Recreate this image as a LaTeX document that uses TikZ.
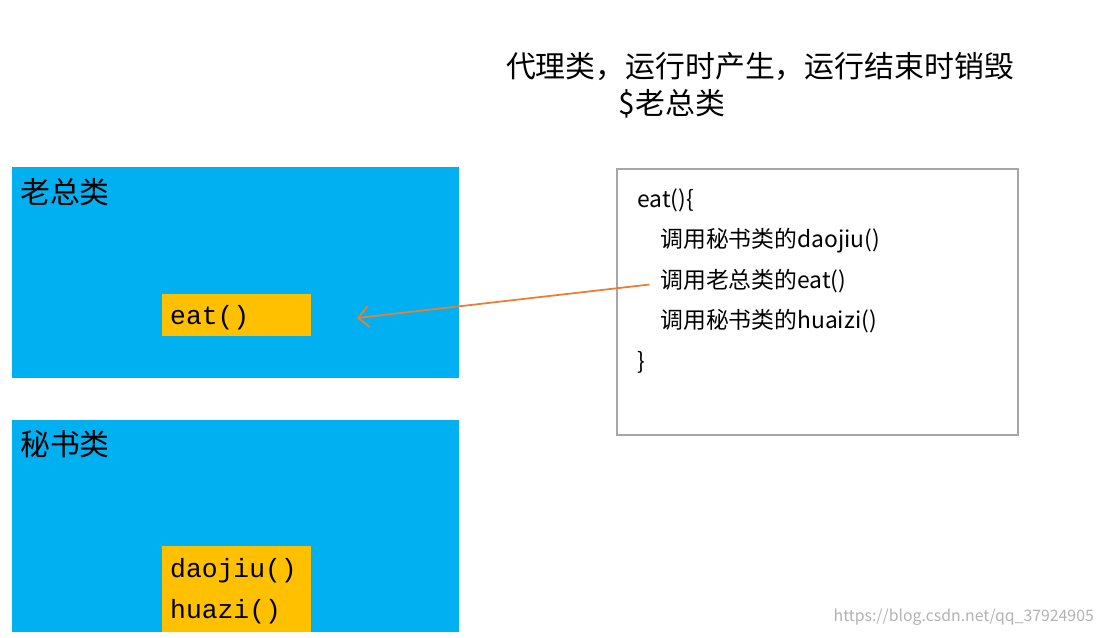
\documentclass[tikz,border=0pt]{standalone}
\usepackage{fontspec}
\setmainfont{Noto Sans CJK SC}
\newfontfamily\monofont{Liberation Mono}
\usetikzlibrary{arrows.meta, positioning}
\definecolor{boss_blue}{RGB}{0, 176, 240}
\definecolor{meth_gold}{RGB}{255, 192, 0}
\definecolor{call_orange}{RGB}{237, 125, 49}
\tikzset{
  classbox/.style={fill=boss_blue, draw=none},
  methbox/.style={fill=meth_gold, draw=none},
  codeline/.style={anchor=west, inner sep=0pt, font=\fontsize{13}{15}\selectfont},
}
\begin{document}
\begin{tikzpicture}[x=0.02cm, y=-0.02cm]
  \useasboundingbox (0,0) rectangle (1109,637);
  % --- title ---
  \node[font=\fontsize{17}{20}\selectfont] (title) at (760,67) {代理类，运行时产生，运行结束时销毁};
  \node[font=\fontsize{17}{20}\selectfont] (title2) at (672,104) {\$老总类};

  % --- boss class ---
  \fill[classbox] (12,167) rectangle (459,378);
  \node[anchor=north west, font=\fontsize{17}{20}\selectfont] (boss) at (14,172) {老总类};
  \fill[methbox] (162,294) rectangle (311,336);
  \node[anchor=west, font=\monofont\fontsize{15}{18}\selectfont] (bosseat) at (164,318) {eat()};
  \coordinate (target) at (357,318);

  % --- secretary class ---
  \fill[classbox] (12,420) rectangle (459,632);
  \node[anchor=north west, font=\fontsize{17}{20}\selectfont] (secr) at (14,424) {秘书类};
  \fill[methbox] (162,546) rectangle (311,632);
  \node[anchor=west, font=\monofont\fontsize{15}{18}\selectfont] (daojiu) at (164,571) {daojiu()};
  \node[anchor=west, font=\monofont\fontsize{15}{18}\selectfont] (huazi) at (164,612) {huazi()};

  % --- proxy code ---
  \draw[gray!70, line width=0.8pt] (617,169) rectangle (1018,435);
  \node[codeline] (l1) at (637,200) {eat()\{};
  \node[codeline] (l2) at (660,241) {调用秘书类的daojiu()};
  \node[codeline] (l3) at (660,281) {调用老总类的eat()};
  \node[codeline] (l4) at (660,321) {调用秘书类的huaizi()};
  \node[codeline] (l5) at (637,362) {\}};

  \draw[-{Straight Barb[length=6pt]}, call_orange, line width=1pt] ([xshift=-6pt,yshift=-2pt]l3.west) -- (target);

  \node[anchor=south east, gray!60, font=\fontsize{9}{10}\selectfont] (mark) at (1100,632) {https://blog.csdn.net/qq\_37924905};
\end{tikzpicture}
\end{document}
